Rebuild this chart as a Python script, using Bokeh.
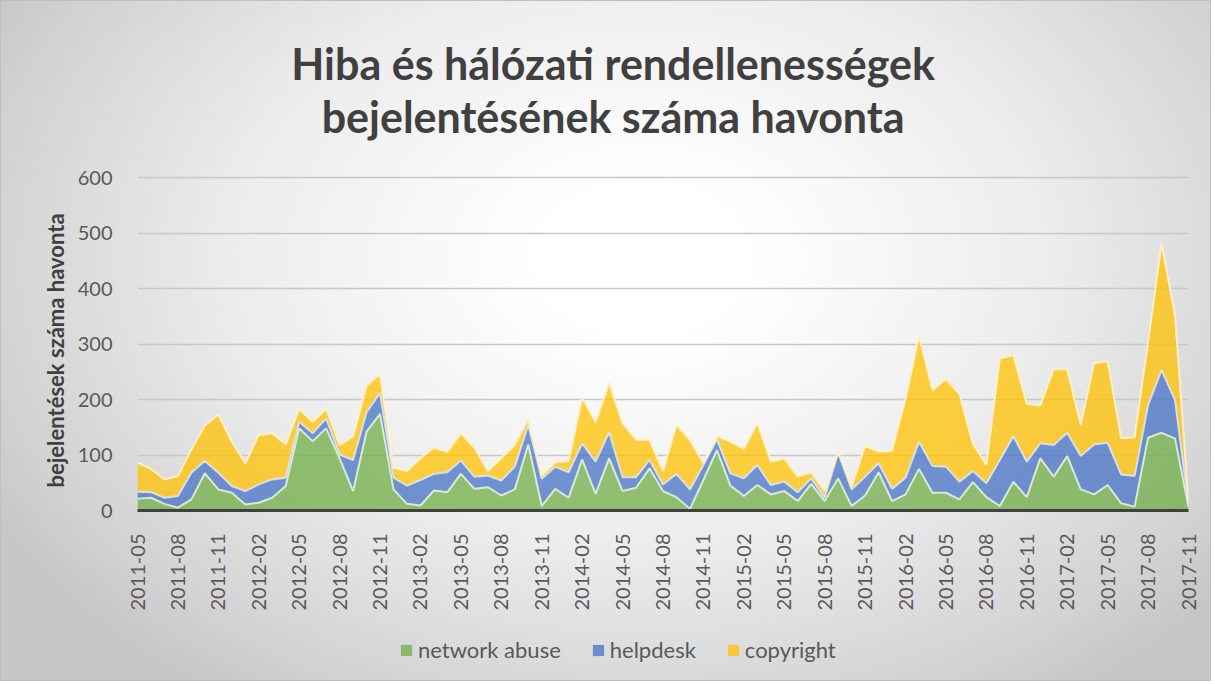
import math
from bokeh.plotting import figure
from bokeh.layouts import column
from bokeh.models import (Range1d, FixedTicker, Label, Legend, LegendItem,
                          ColumnDataSource, Title)
from bokeh.embed import file_html
from bokeh.resources import INLINE

# ---- data ----
tick_labels = ["2011-05", "2011-08", "2011-11", "2012-02", "2012-05", "2012-08",
               "2012-11", "2013-02", "2013-05", "2013-08", "2013-11", "2014-02",
               "2014-05", "2014-08", "2014-11", "2015-02", "2015-05", "2015-08",
               "2015-11", "2016-02", "2016-05", "2016-08", "2016-11", "2017-02",
               "2017-05", "2017-08", "2017-11"]

network_abuse = [21, 23, 12, 5, 20, 67, 38, 32, 11, 14, 23, 44, 148, 125, 148, 94,
                 35, 142, 174, 38, 12, 9, 36, 33, 66, 39, 42, 27, 38, 119, 8, 39,
                 23, 92, 30, 94, 35, 41, 76, 35, 24, 3, 55, 109, 45, 26, 46, 29,
                 35, 17, 48, 17, 58, 8, 27, 69, 17, 29, 75, 32, 32, 20, 51, 24,
                 8, 52, 24, 94, 61, 98, 38, 29, 46, 13, 7, 131, 140, 130, 6]

helpdesk = [13, 10, 11, 21, 48, 22, 30, 12, 24, 33, 33, 15, 12, 14, 18, 7,
            56, 35, 38, 21, 33, 46, 30, 36, 24, 22, 21, 27, 41, 35, 49, 40,
            46, 29, 58, 47, 25, 19, 15, 12, 42, 35, 27, 19, 22, 32, 36, 17,
            17, 16, 10, 6, 46, 30, 34, 16, 22, 30, 49, 48, 47, 32, 20, 25,
            83, 82, 64, 27, 57, 42, 60, 90, 76, 52, 55, 59, 113, 69, 3]

copyright_ = [52, 42, 33, 36, 42, 64, 105, 80, 50, 89, 83, 60, 23, 21, 17, 17,
              42, 48, 34, 18, 26, 39, 47, 37, 49, 52, 8, 40, 39, 11, 6, 8,
              20, 82, 71, 89, 97, 68, 36, 24, 88, 89, 3, 6, 57, 53, 76, 42,
              42, 28, 11, 12, 2, 6, 55, 21, 68, 142, 191, 137, 158, 158, 49, 33,
              183, 146, 104, 68, 137, 114, 56, 147, 147, 65, 70, 114, 228, 152, 5]

series_names = ["network abuse", "helpdesk", "copyright"]
y_ticks = [0, 100, 200, 300, 400, 500, 600]
title_lines = ["Hiba és hálózati rendellenességek", "bejelentésének száma havonta"]
y_title = "bejelentések száma havonta"
month_index = list(range(len(network_abuse)))

src = ColumnDataSource(dict(x=month_index, network=network_abuse,
                            helpdesk=helpdesk, copyright=copyright_))

FONT = "Lato"
fills = ["#70AD47", "#4472C4", "#FFC000"]
edges = ["#e2f0d9", "#dae3f3", "#fff2cc"]
stackers = ["network", "helpdesk", "copyright"]

p = figure(width=1211, height=613, output_backend="svg", toolbar_location=None,
           x_range=Range1d(0, 78), y_range=Range1d(0, 901),
           min_border_left=137, min_border_right=23, min_border_top=10,
           min_border_bottom=100,
           border_fill_color=None, background_fill_color=None,
           outline_line_color=None)

areas = p.varea_stack(stackers, x="x", source=src, fill_color=fills, fill_alpha=0.75)
p.vline_stack(stackers, x="x", source=src, line_color=edges, line_width=2, line_alpha=0.9)

# axes
p.xaxis.ticker = FixedTicker(ticks=list(range(0, 79, 3)))
p.xaxis.major_label_overrides = {i * 3: lab for i, lab in enumerate(tick_labels)}
p.xaxis.major_label_orientation = math.pi / 2
p.xaxis.axis_line_color = "#404040"
p.xaxis.axis_line_width = 3
p.xaxis.major_tick_line_color = None
p.xaxis.minor_tick_line_color = None
p.xaxis.major_label_standoff = 17
p.xaxis.major_label_text_font = FONT
p.xaxis.major_label_text_font_size = "20px"
p.xaxis.major_label_text_color = "#595959"

p.yaxis.ticker = FixedTicker(ticks=y_ticks)
p.yaxis.axis_line_color = None
p.yaxis.major_tick_line_color = None
p.yaxis.minor_tick_line_color = None
p.yaxis.major_label_standoff = 19
p.yaxis.major_label_text_font = FONT
p.yaxis.major_label_text_font_size = "20px"
p.yaxis.major_label_text_color = "#595959"

p.add_layout(Title(text=y_title, align="left", offset=23, standoff=12,
                   text_font=FONT, text_font_style="bold",
                   text_font_size="22px", text_color="#404040"), "left")

p.xgrid.visible = False
p.ygrid.grid_line_color = "#c8c8c8"
p.ygrid.grid_line_width = 1.5

# title (inside the extended frame, above the 600 gridline)
for txt, yy in zip(title_lines, [805, 710]):
    p.add_layout(Label(x=35.3, y=yy, text=txt, text_align="center",
                       text_baseline="alphabetic", text_font=FONT,
                       text_font_style="bold", text_font_size="43px",
                       text_color="#404040"))

# legend strip below the chart (same stacked series, kept out of view)
p2 = figure(width=1211, height=68, output_backend="svg", toolbar_location=None,
            x_range=Range1d(0, 78), y_range=Range1d(-2, -1),
            x_axis_location=None, y_axis_location=None,
            min_border=0, border_fill_color=None, background_fill_color=None,
            outline_line_color=None)
p2.grid.visible = False
swatches = p2.varea_stack(stackers, x="x", source=src, fill_color=fills, fill_alpha=0.75)
legend = Legend(items=[LegendItem(label=n, renderers=[r]) for n, r in zip(series_names, swatches)],
                orientation="horizontal", location=(262, 18),
                margin=0, padding=0, spacing=30, label_standoff=5,
                glyph_width=14, glyph_height=14,
                label_text_font=FONT, label_text_font_size="22px",
                label_text_color="#595959",
                background_fill_alpha=0, border_line_alpha=0)
p2.add_layout(legend)

layout = column(p, p2, spacing=0,
                styles={"background": "radial-gradient(ellipse 62% 78% at 53% 38%, #ffffff 0%, #ffffff 14%, #ececec 55%, #d2d2d2 88%, #c6c6c6 100%)",
                        "outline": "1px solid #bfbfbf", "outline-offset": "-1px"})

open("out.html", "w").write(file_html(layout, INLINE))
